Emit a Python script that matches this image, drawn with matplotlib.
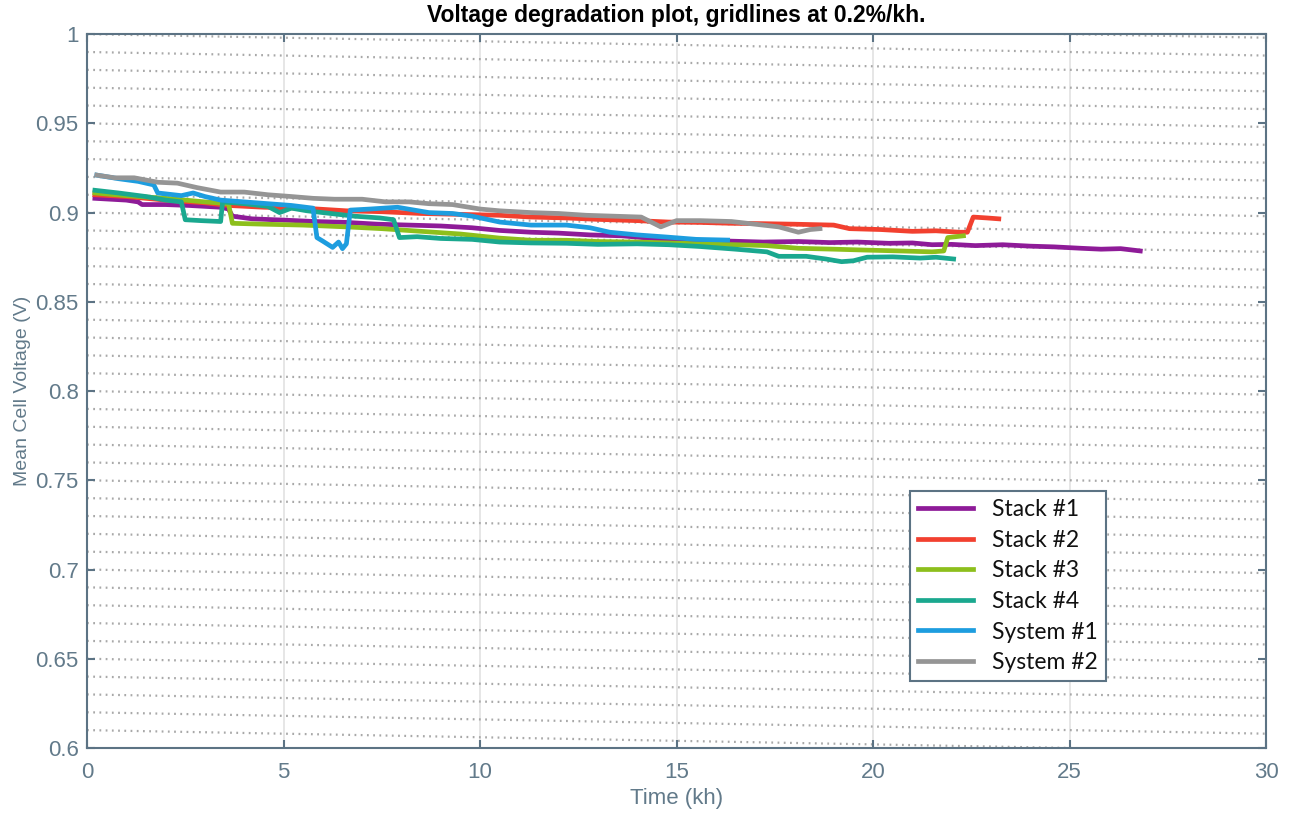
import numpy as np
import matplotlib.pyplot as plt

# Series (time in kh, mean cell voltage in V)
stack1_x = [0.2, 0.6, 1.0, 1.3, 1.4, 2.0, 2.6, 3.0, 3.4, 3.6, 3.7, 4.2, 5.0, 5.8, 6.6, 7.4, 8.2, 9.0,
            9.8, 10.5, 11.3, 12.0, 12.8, 13.6, 14.4, 14.8, 15.5, 16.4, 17.2, 18.1, 18.9, 19.6, 20.4,
            21.0, 21.5, 22.0, 22.6, 23.3, 24.0, 24.6, 25.3, 25.8, 26.3, 26.8]
stack1_y = [0.908, 0.9075, 0.907, 0.906, 0.9045, 0.9045, 0.904, 0.9035, 0.903, 0.902, 0.898, 0.8965,
            0.8958, 0.895, 0.8945, 0.8935, 0.893, 0.8925, 0.8915, 0.890, 0.889, 0.8885, 0.8875, 0.887,
            0.8855, 0.8846, 0.8845, 0.884, 0.8835, 0.8838, 0.8832, 0.8835, 0.8828, 0.883, 0.882,
            0.8822, 0.8815, 0.882, 0.8812, 0.8808, 0.880, 0.8795, 0.8798, 0.8785]

stack2_x = [0.2, 1.0, 2.0, 3.0, 3.6, 4.5, 5.5, 6.6, 7.5, 8.5, 9.5, 10.5, 11.3, 12.2, 13.0, 14.0, 14.8,
            15.6, 16.4, 17.2, 18.0, 19.0, 19.4, 20.2, 21.0, 21.6, 22.2, 22.4, 22.55, 22.9, 23.2]
stack2_y = [0.910, 0.909, 0.907, 0.9055, 0.904, 0.903, 0.9025, 0.901, 0.9005, 0.8995, 0.899, 0.8985,
            0.8975, 0.897, 0.8962, 0.8955, 0.8947, 0.8945, 0.894, 0.8938, 0.8935, 0.893, 0.891,
            0.8905, 0.8895, 0.8898, 0.889, 0.889, 0.8975, 0.897, 0.8965]

stack3_x = [0.2, 1.0, 2.0, 3.0, 3.6, 3.7, 4.5, 5.5, 6.6, 7.5, 8.5, 9.5, 10.5, 11.3, 12.2, 13.0, 14.0,
            14.8, 15.6, 16.5, 17.3, 18.1, 19.0, 19.8, 20.7, 21.5, 21.8, 21.9, 22.3]
stack3_y = [0.911, 0.9095, 0.908, 0.906, 0.905, 0.894, 0.8935, 0.893, 0.892, 0.891, 0.8895, 0.888,
            0.8857, 0.8845, 0.8845, 0.8838, 0.8835, 0.883, 0.8825, 0.882, 0.8815, 0.880, 0.8795,
            0.879, 0.8785, 0.878, 0.8785, 0.886, 0.887]

stack4_x = [0.2, 0.8, 1.5, 2.0, 2.4, 2.5, 2.9, 3.4, 3.45, 4.0, 4.6, 4.9, 5.2, 5.6, 6.2, 6.8, 7.45,
            7.8, 7.95, 8.4, 9.0, 9.8, 10.5, 11.3, 12.2, 13.0, 14.0, 14.8, 15.6, 16.5, 17.3, 17.6,
            18.3, 18.8, 19.2, 19.5, 19.85, 20.5, 21.2, 21.6, 22.05]
stack4_y = [0.9125, 0.911, 0.909, 0.907, 0.906, 0.896, 0.8955, 0.895, 0.906, 0.905, 0.9035, 0.900,
            0.9025, 0.901, 0.8995, 0.898, 0.897, 0.896, 0.886, 0.8865, 0.8855, 0.885, 0.8835, 0.883,
            0.8828, 0.8822, 0.8825, 0.882, 0.881, 0.8795, 0.878, 0.8755, 0.8755, 0.874, 0.8725,
            0.873, 0.875, 0.8752, 0.8745, 0.875, 0.874]

system1_x = [0.25, 0.8, 1.3, 1.7, 1.8, 2.4, 2.7, 3.0, 3.4, 4.0, 4.6, 5.2, 5.75, 5.85, 6.0, 6.25, 6.4,
             6.5, 6.6, 6.7, 7.2, 7.9, 8.3, 8.7, 9.3, 9.8, 10.5, 11.3, 12.2, 12.8, 13.3, 14.0, 14.75,
             15.5, 16.3]
system1_y = [0.921, 0.919, 0.9175, 0.9155, 0.911, 0.9095, 0.911, 0.909, 0.907, 0.906, 0.905, 0.904,
             0.9025, 0.886, 0.884, 0.8805, 0.8835, 0.8798, 0.8825, 0.9014, 0.902, 0.903, 0.9015,
             0.900, 0.8995, 0.898, 0.8947, 0.893, 0.893, 0.8915, 0.889, 0.8875, 0.8863, 0.885, 0.8846]

system2_x = [0.25, 0.7, 1.2, 1.8, 2.3, 2.8, 3.4, 4.0, 4.6, 5.2, 5.75, 6.3, 7.0, 7.6, 8.2, 8.7, 9.3,
             10.0, 10.5, 11.3, 12.0, 12.7, 13.4, 14.1, 14.6, 15.0, 15.6, 16.4, 17.0, 17.6, 18.1,
             18.4, 18.65]
system2_y = [0.921, 0.9195, 0.9195, 0.917, 0.9165, 0.914, 0.9115, 0.9115, 0.910, 0.909, 0.908,
             0.9075, 0.9075, 0.906, 0.906, 0.905, 0.9045, 0.902, 0.901, 0.900, 0.8995, 0.8985, 0.898,
             0.8975, 0.892, 0.8955, 0.8955, 0.895, 0.8935, 0.892, 0.889, 0.8905, 0.891]

labels = ['Stack #1', 'Stack #2', 'Stack #3', 'Stack #4', 'System #1', 'System #2']
colors = ['#8e1b98', '#f2402f', '#8dbf1c', '#1aa88f', '#1d9ddf', '#959595']

x_ticks = [0, 5, 10, 15, 20, 25, 30]
y_ticks = [0.6, 0.65, 0.7, 0.75, 0.8, 0.85, 0.9, 0.95, 1.0]
y_tick_labels = ['0.6', '0.65', '0.7', '0.75', '0.8', '0.85', '0.9', '0.95', '1']

axis_col = '#5c7384'
label_col = '#627a8a'

fig = plt.figure(figsize=(12.89, 8.13), dpi=100)
ax = fig.add_axes([0.0675, 0.080, 0.9147, 0.878])

# vertical grid at the x ticks
for xv in x_ticks[1:-1]:
    ax.axvline(xv, color='#e2e2e2', lw=1.2, zorder=0)

# sloped dotted guide lines every 0.01 V
slope = 0.0004
for c in np.arange(0.60, 1.03, 0.01):
    ax.plot([0, 30], [c, c - slope * 30], color='#a8a8a8', lw=1.6,
            linestyle=(0, (0.8, 2.0)), zorder=0.5)

series = [(stack1_x, stack1_y), (stack2_x, stack2_y), (stack3_x, stack3_y),
          (stack4_x, stack4_y), (system1_x, system1_y), (system2_x, system2_y)]
for (xs, ys), lab, col in zip(series, labels, colors):
    ax.plot(xs, ys, color=col, lw=3.4, label=lab, zorder=3)

ax.set_xlim(0, 30)
ax.set_ylim(0.6, 1.0)
ax.set_xticks(x_ticks)
ax.set_xticklabels([str(v) for v in x_ticks])
ax.set_yticks(y_ticks)
ax.set_yticklabels(y_tick_labels)

for s in ax.spines.values():
    s.set_color(axis_col)
    s.set_linewidth(1.5)
ax.tick_params(direction='in', length=6, width=1.5, color=axis_col, labelcolor=label_col,
               top=True, right=True, labelsize=16)
ax.tick_params(axis='x', pad=10)
ax.tick_params(axis='y', pad=6)
for t in ax.get_xticklabels() + ax.get_yticklabels():
    t.set_family('Liberation Sans')

ax.set_title('Voltage degradation plot, gridlines at 0.2%/kh.', fontsize=16.5, fontweight='bold',
             family='Liberation Sans', pad=9)
ax.set_xlabel('Time (kh)', fontsize=16, color=label_col, family='Liberation Sans', labelpad=4)
ax.set_ylabel('Mean Cell Voltage (V)', fontsize=14, color=label_col, family='Liberation Sans',
              labelpad=3)

leg = ax.legend(loc='upper left', bbox_to_anchor=(0.698, 0.36),
                prop={'family': 'Lato', 'size': 16.5}, frameon=True, fancybox=False,
                edgecolor=axis_col, framealpha=1, borderpad=0.35, labelspacing=0.42,
                handlelength=2.4, handletextpad=0.85, borderaxespad=0)
leg.get_frame().set_linewidth(1.5)
for t in leg.get_texts():
    t.set_color('#111111')

fig.savefig('out.png', dpi=100)
